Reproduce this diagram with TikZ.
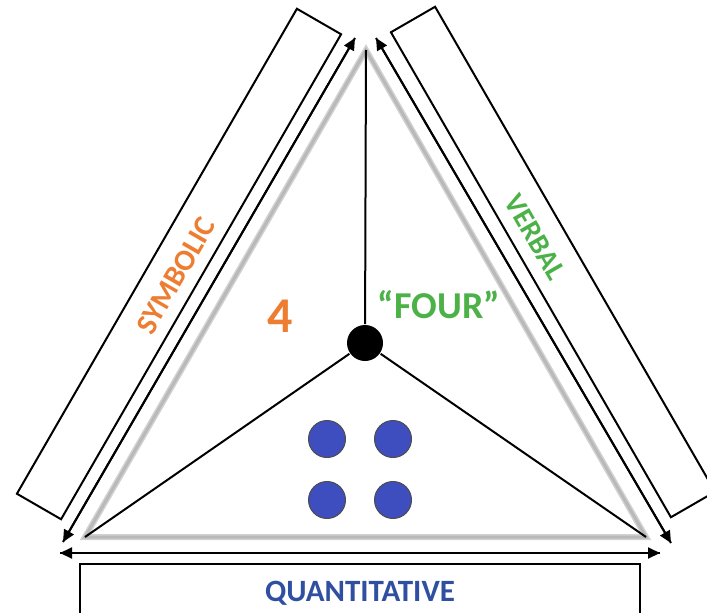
\documentclass[tikz,border=0pt]{standalone}
\usepackage{fontspec}
\setmainfont{Carlito}
\usetikzlibrary{arrows.meta,positioning,calc}
\definecolor{symorange}{RGB}{237,125,49}
\definecolor{verbgreen}{RGB}{76,178,72}
\definecolor{quantblue}{RGB}{47,80,160}
\definecolor{dotblue}{RGB}{62,78,190}

\begin{document}
\begin{tikzpicture}[x=1pt,y=-1pt,font=\bfseries,
    line width=2pt,
    tip/.style={-{Triangle[length=12pt,width=11pt]}},
    sidebox/.style={draw,minimum width=560pt,minimum height=51pt,inner sep=0pt},
    dot/.style={circle,draw=black!70,line width=1pt,fill=dotblue,minimum size=37pt,inner sep=0pt}]
  \useasboundingbox (0,0) rectangle (707,613);
  % gray triangle
  \coordinate (top) at (366,50);
  \coordinate (bl) at (85,537);
  \coordinate (br) at (646,537);
  \draw[gray!35,line width=6pt,line join=miter] (top) -- (bl) -- (br) -- cycle;
  \draw[gray!55,line width=3pt,line join=miter] (top) -- (bl) -- (br) -- cycle;
  % spokes
  \node[circle,fill=black,minimum size=36pt,inner sep=0pt] (hub) at (365,343) {};
  \draw (hub) -- (top);
  \draw (hub) -- (bl);
  \draw (hub) -- (br);
  % boxes
  \node[sidebox,rotate=60] (symbox) at (179,264) {};
  \node[sidebox,rotate=-60] (verbox) at (553,262) {};
  \draw (80,630) -- (80,564) -- (640,564) -- (640,630);
  % arrows
  \coordinate (sa) at (63,542);  \coordinate (sb) at (355,38);
  \coordinate (va) at (376,38);  \coordinate (vb) at (671,543);
  \coordinate (qa) at (60,553);  \coordinate (qb) at (660,553);
  \draw[tip] (sb) -- (sa);
  \draw[tip] (sa) -- (sb);
  \draw[tip] (va) -- (vb);
  \draw[tip] (vb) -- (va);
  \draw[tip] (qb) -- (qa);
  \draw[tip] (qa) -- (qb);
  % labels
  \node[symorange,font=\bfseries\fontsize{30}{30}\selectfont,rotate=60] (symlab) at (176,276) {SYMBOLIC};
  \node[verbgreen,font=\bfseries\fontsize{29}{29}\selectfont,rotate=-60] (verlab) at (535,237) {VERBAL};
  \node[quantblue,font=\bfseries\fontsize{31}{31}\selectfont] (quantlab) at (360,593) {QUANTITATIVE};
  \node[symorange,font=\bfseries\fontsize{50}{50}\selectfont] (four) at (280,316) {4};
  \node[verbgreen,font=\bfseries\fontsize{38}{38}\selectfont] (word) at (439,305) {“FOUR”};
  % dots
  \node[dot] (d1) at (327,439) {};
  \node[dot] (d2) at (393,439) {};
  \node[dot] (d3) at (327,500) {};
  \node[dot] (d4) at (393,500) {};
\end{tikzpicture}
\end{document}
